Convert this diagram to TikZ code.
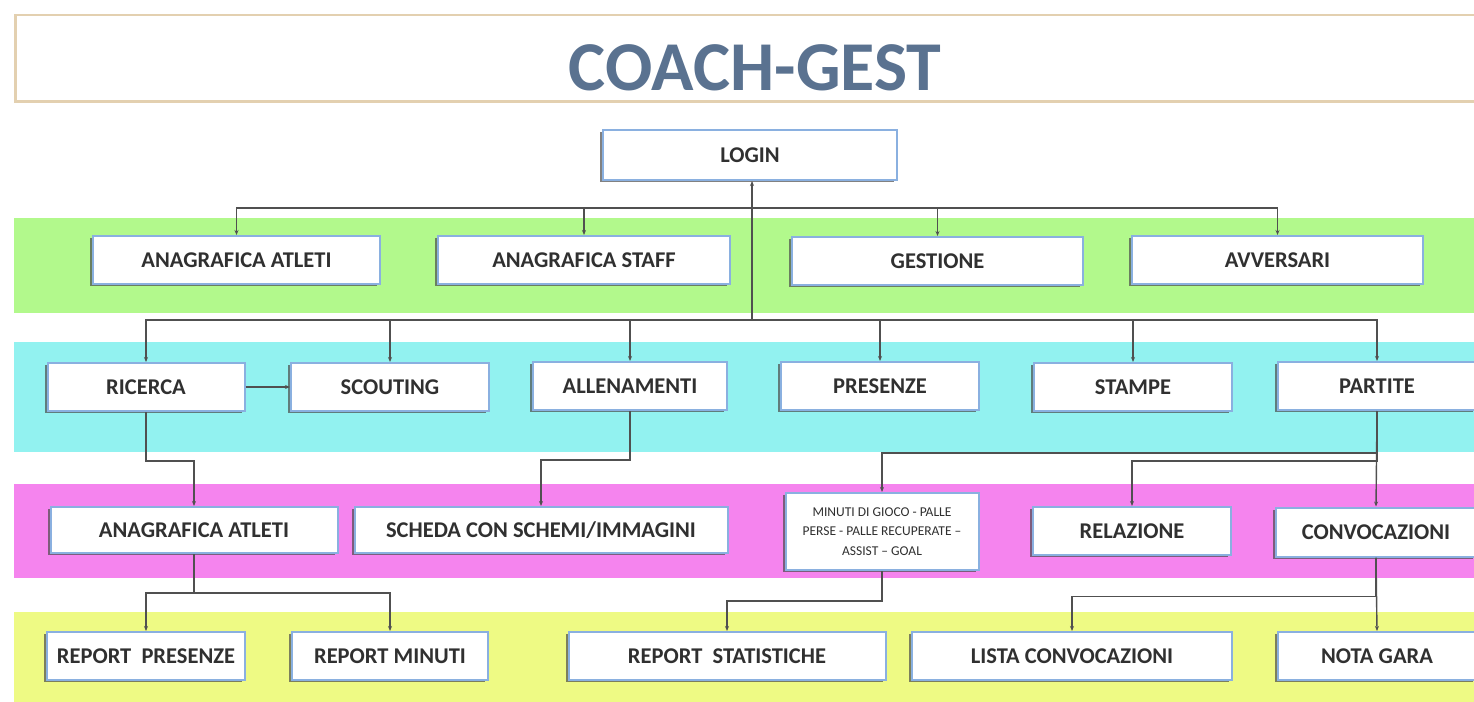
\documentclass[tikz,border=0pt]{standalone}
\usepackage{fontspec}
\setmainfont{Carlito}
\usetikzlibrary{arrows.meta,shadows}
\definecolor{bandgreen}{HTML}{B2F98C}
\definecolor{bandcyan}{HTML}{92F2F0}
\definecolor{bandpink}{HTML}{F584EE}
\definecolor{bandyellow}{HTML}{EEFA84}
\definecolor{boxblue}{HTML}{8AB0E0}
\definecolor{titleframe}{HTML}{E3D0B0}
\definecolor{titlecol}{HTML}{5A7290}
\definecolor{txt}{HTML}{303030}
\definecolor{linecol}{HTML}{505050}
\tikzset{
  box/.style={draw=boxblue, line width=2pt, fill=white, inner sep=0pt, text=txt,
    font=\bfseries\fontsize{22.5}{24}\selectfont, align=center,
    drop shadow={shadow xshift=-3pt, shadow yshift=-2pt, fill=black!70, opacity=0.7}},
  conn/.style={draw=linecol, line width=1.4pt, -{Stealth[length=5pt,width=4pt]}},
}
\begin{document}
\begin{tikzpicture}[x=1pt,y=-1pt]
\useasboundingbox (0,0) rectangle (1474,701);
\clip (0,0) rectangle (1474,701);
\fill[white] (0,0) rectangle (1474,701);
% title
\node[draw=titleframe, line width=2.5pt, minimum width=1480pt, minimum height=86pt, anchor=north west, inner sep=0pt] (titlebox) at (14,14) {};
\node[text=titlecol, font=\bfseries\fontsize{70}{72}\selectfont] (title) at (755,68) {COACH-GEST};
% bands
\fill[bandgreen] (14,218) rectangle (1480,313);
\fill[bandcyan] (14,342) rectangle (1480,452);
\fill[bandpink] (14,484) rectangle (1480,578);
\fill[bandyellow] (14,612) rectangle (1480,705);
% login
\node[box, minimum width=294pt, minimum height=50pt] (login) at (750,155) {LOGIN};
% row 1
\node[box, minimum width=287pt, minimum height=48pt] (aa1) at (236.5,260) {ANAGRAFICA ATLETI};
\node[box, minimum width=292pt, minimum height=48pt] (ast) at (584,260) {ANAGRAFICA STAFF};
\node[box, minimum width=291pt, minimum height=48pt] (ges) at (937.5,261) {GESTIONE};
\node[box, minimum width=291pt, minimum height=48pt] (avv) at (1277.5,260) {AVVERSARI};
% row 2
\node[box, minimum width=197pt, minimum height=48pt] (ric) at (146,387) {RICERCA};
\node[box, minimum width=198pt, minimum height=48pt] (sco) at (390,387) {SCOUTING};
\node[box, minimum width=194pt, minimum height=48pt] (all) at (630,386) {ALLENAMENTI};
\node[box, minimum width=198pt, minimum height=48pt] (pre) at (880,386) {PRESENZE};
\node[box, minimum width=198pt, minimum height=48pt] (sta) at (1133,387) {STAMPE};
\node[box, minimum width=198pt, minimum height=48pt] (par) at (1377,386) {PARTITE};
% row 3
\node[box, minimum width=287pt, minimum height=46pt] (aa2) at (194,530) {ANAGRAFICA ATLETI};
\node[box, minimum width=373pt, minimum height=46pt] (sch) at (541,530) {SCHEDA CON SCHEMI/IMMAGINI};
\node[box, minimum width=193pt, minimum height=77pt, font=\fontsize{13.5}{19.5}\selectfont] (min) at (882,531.5) {MINUTI DI GIOCO - PALLE\\PERSE - PALLE RECUPERATE –\\ASSIST – GOAL};
\node[box, minimum width=198pt, minimum height=48pt] (rel) at (1132,531) {RELAZIONE};
\node[box, minimum width=200pt, minimum height=49pt] (conv) at (1376,532) {CONVOCAZIONI};
% row 4
\node[box, minimum width=198pt, minimum height=48pt] (rp) at (146,656) {REPORT\ \ PRESENZE};
\node[box, minimum width=196pt, minimum height=48pt] (rm) at (390,656) {REPORT MINUTI};
\node[box, minimum width=317pt, minimum height=48pt] (rs) at (727,656) {REPORT\ \ STATISTICHE};
\node[box, minimum width=320pt, minimum height=48pt] (lc) at (1072,656) {LISTA CONVOCAZIONI};
\node[box, minimum width=198pt, minimum height=48pt] (ng) at (1377,656) {NOTA GARA};
% junctions
\coordinate (j1) at (752,208);
\coordinate (j2) at (752,320);
% connectors
\draw[conn] (j2) -- (j2 |- login.south);
\draw[conn] (j1) -| (aa1.north);
\draw[conn] (j1) -| (ast.north);
\draw[conn] (j1) -| (ges.north);
\draw[conn] (j1) -| (avv.north);
\draw[conn] (j2) -| (ric.north);
\draw[conn] (j2) -| (sco.north);
\draw[conn] (j2) -| (all.north);
\draw[conn] (j2) -| (pre.north);
\draw[conn] (j2) -| (sta.north);
\draw[conn] (j2) -| (par.north);
\draw[conn] (ric.east) -- (sco.west);
\draw[conn] (ric.south) -- ++(0,49) -| (aa2.north);
\draw[conn] (all.south) -- ++(0,49) -| (sch.north);
\draw[conn] (par.south) -- ++(0,42) -| (min.north);
\draw[conn] (par.south) -- ++(0,50) -| (rel.north);
\draw[conn] (par.south) -- (conv.north);
\draw[conn] (aa2.south) -- ++(0,39) -| (rp.north);
\draw[conn] (aa2.south) -- ++(0,39) -| (rm.north);
\draw[conn] (min.south) -- ++(0,30) -| (rs.north);
\draw[conn] (conv.south) -- ++(0,39) -| (lc.north);
\draw[conn] (conv.south) -- (ng.north);
\end{tikzpicture}
\end{document}
